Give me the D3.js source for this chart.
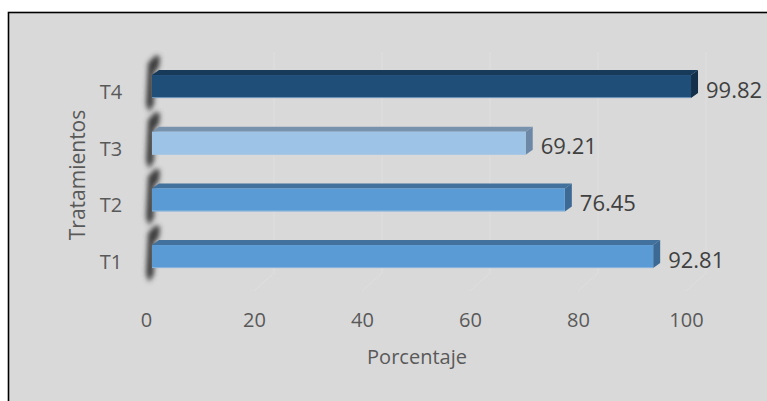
<!DOCTYPE html>
<html>
<head>
<meta charset="utf-8">
<script src="https://cdn.jsdelivr.net/npm/d3@7"></script>
<style>
  html, body { margin: 0; padding: 0; background: #ffffff; }
  svg { display: block; }
  text { font-family: "Open Sans", "Noto Sans", sans-serif; }
</style>
</head>
<body>
<svg id="chart" width="767" height="401"></svg>
<script>
const categories = ["T1", "T2", "T3", "T4"];
const values = [92.81, 76.45, 69.21, 99.82];
const valueLabels = ["92.81", "76.45", "69.21", "99.82"];
const xTicks = [0, 20, 40, 60, 80, 100];
const axisTitleX = "Porcentaje";
const axisTitleY = "Tratamientos";

const colors = {
  T1: { front: "#5b9bd5", top: "#41719c", side: "#3d6a95" },
  T2: { front: "#5b9bd5", top: "#41719c", side: "#3d6a95" },
  T3: { front: "#9dc3e6", top: "#7892ae", side: "#6d88a6" },
  T4: { front: "#1f4e79", top: "#173a5b", side: "#142f4a" }
};

const svg = d3.select("#chart");
const W = 767, H = 401;

svg.append("rect")
  .attr("x", 8.5).attr("y", 12.5)
  .attr("width", W + 20).attr("height", H + 20)
  .attr("fill", "#d9d9d9")
  .attr("stroke", "#000").attr("stroke-width", 1.6);

const x = d3.scaleLinear().domain([0, 100]).range([152, 692]);
const y = d3.scaleBand()
  .domain(categories.slice().reverse())
  .range([46.7, 296.4])
  .paddingInner(0.594)
  .paddingOuter(0.5);

const depthX = 7, depthY = 5;
const bw = y.bandwidth();

const defs = svg.append("defs");
defs.append("filter").attr("id", "blur")
  .attr("x", "-150%").attr("y", "-30%").attr("width", "400%").attr("height", "160%")
  .append("feGaussianBlur").attr("stdDeviation", 2.6);

const grid = svg.append("g");
xTicks.forEach(t => {
  if (t === 0) return;
  const xb = x(t) + 14;
  grid.append("path")
    .attr("d", `M${xb},52 L${xb},273 L${x(t) - 6},291`)
    .attr("fill", "none")
    .attr("stroke", "#dfdfdf")
    .attr("stroke-width", 1);
});

const data = categories.map((c, i) => ({ cat: c, value: values[i], label: valueLabels[i] }));
svg.append("g").selectAll("path").data(data).join("path")
  .attr("d", d => {
    const t = y(d.cat), x0 = x(0);
    return `M${x0 - 4},${t - 12} L${x0 + 4},${t - 20} L${x0 + 8},${t - 18} L${x0 + 7},${t - 8} L${x0 + 2},${t - 2} L${x0 + 2},${t + bw + 6} L${x0 - 3},${t + bw + 14} L${x0 - 6},${t + bw + 6} Z`;
  })
  .attr("fill", "#3c3c3c")
  .attr("filter", "url(#blur)");

const bars = svg.append("g").selectAll("g").data(data).join("g");
bars.append("path")
  .attr("d", d => {
    const t = y(d.cat), x0 = x(0), x1 = x(d.value);
    return `M${x0},${t} L${x0 + depthX},${t - depthY} L${x1 + depthX},${t - depthY} L${x1},${t} Z`;
  })
  .attr("fill", d => colors[d.cat].top);
bars.append("path")
  .attr("d", d => {
    const t = y(d.cat), x1 = x(d.value);
    return `M${x1},${t} L${x1 + depthX},${t - depthY} L${x1 + depthX},${t + bw - depthY} L${x1},${t + bw} Z`;
  })
  .attr("fill", d => colors[d.cat].side);
bars.append("rect")
  .attr("x", x(0))
  .attr("y", d => y(d.cat))
  .attr("width", d => x(d.value) - x(0))
  .attr("height", bw)
  .attr("fill", d => colors[d.cat].front);
bars.append("line")
  .attr("x1", x(0)).attr("x2", d => x(d.value))
  .attr("y1", d => y(d.cat) + bw - 0.5).attr("y2", d => y(d.cat) + bw - 0.5)
  .attr("stroke", "#a9c6e2").attr("stroke-opacity", 0.6);

bars.append("text")
  .attr("x", d => x(d.value) + depthX + 8)
  .attr("y", d => y(d.cat) + bw / 2 + 2)
  .attr("dominant-baseline", "central")
  .attr("font-size", 22)
  .attr("fill", "#404040")
  .text(d => d.label);

svg.append("g").selectAll("text").data(categories).join("text")
  .attr("x", 111)
  .attr("y", c => y(c) + bw / 2 + 5)
  .attr("text-anchor", "middle")
  .attr("dominant-baseline", "central")
  .attr("font-size", 20)
  .attr("fill", "#595959")
  .text(c => c);

const xAxis = d3.axisBottom(d3.scaleLinear().domain([0, 100]).range([x(0) - 6, x(100) - 6]))
  .tickValues(xTicks).tickSize(0).tickPadding(0);
const gx = svg.append("g").attr("transform", "translate(0,313)").call(xAxis);
gx.select(".domain").remove();
gx.selectAll("text")
  .attr("font-size", 20)
  .attr("fill", "#595959")
  .attr("font-family", "'Open Sans', sans-serif");

svg.append("text")
  .attr("x", 417).attr("y", 356)
  .attr("text-anchor", "middle").attr("dominant-baseline", "central")
  .attr("font-size", 20).attr("fill", "#595959")
  .text(axisTitleX);
svg.append("text")
  .attr("transform", "translate(77,175) rotate(-90)")
  .attr("text-anchor", "middle").attr("dominant-baseline", "central")
  .attr("font-size", 21).attr("fill", "#595959")
  .text(axisTitleY);
</script>
</body>
</html>
